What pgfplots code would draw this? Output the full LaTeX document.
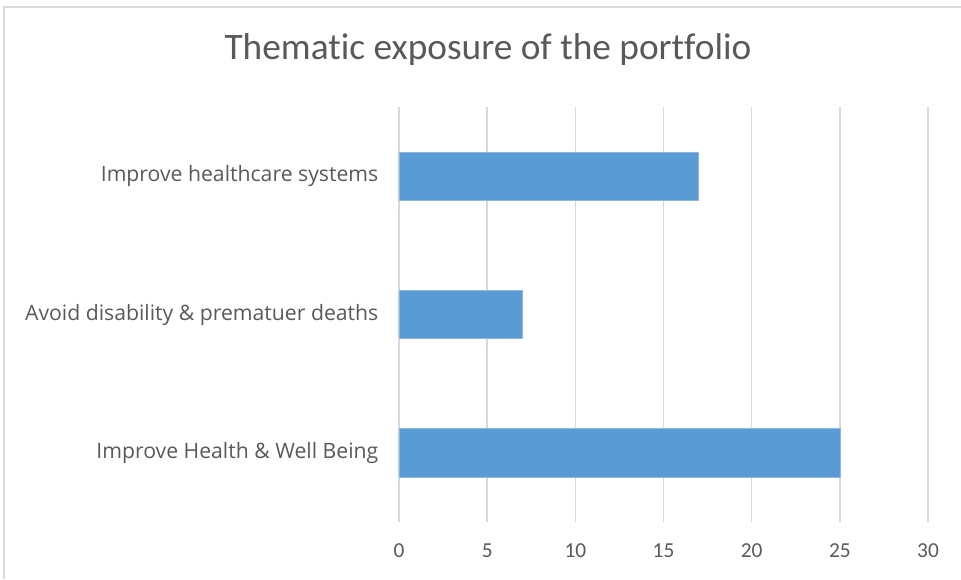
\documentclass[border=0pt]{standalone}
\usepackage{pgfplots}
\pgfplotsset{compat=1.18}
\usepackage{fontspec}
\setmainfont{Open Sans}
\newfontfamily\calibri[Ligatures=NoCommon]{Carlito}
\definecolor{barblue}{HTML}{5B9BD5}
\definecolor{gridgray}{HTML}{D9D9D9}
\definecolor{txtgray}{HTML}{595959}
\begin{document}
\begin{tikzpicture}[x=1pt,y=1pt]
\path[use as bounding box] (0,0) rectangle (720.75,434.25);
\draw[gridgray, line width=1.5pt] (3,0) -- (3,429) -- (720.75,429);
\node[txtgray, font=\calibri\fontsize{28}{32}\selectfont] at (366,396.75) {Thematic exposure of the portfolio};
\begin{axis}[
  at={(299.25pt,42.75pt)}, anchor=south west,
  scale only axis, width=396.75pt, height=311.25pt,
  xbar, bar width=36pt,
  xmin=0, xmax=30, ymin=-0.5, ymax=2.5,
  xtick={0,5,...,30},
  ytick={0,1,2},
  yticklabels={Improve Health \& Well Being, Avoid disability \& prematuer deaths, Improve healthcare systems},
  axis line style={draw=none},
  major tick length=0pt,
  xmajorgrids, grid style={gridgray, line width=1.1pt},
  ymajorgrids=false,
  /pgf/number format/assume math mode=true,
  tick label style={txtgray},
  xticklabel style={font=\calibri\fontsize{16}{19}\selectfont, yshift=-13pt},
  yticklabel style={font=\fontsize{15.9}{19}\selectfont, xshift=-12pt},
  clip=false,
]
\addplot[fill=barblue, draw=barblue!70!white, line width=0.5pt] coordinates {(25,0) (7,1) (17,2)};
\end{axis}
\end{tikzpicture}
\end{document}
